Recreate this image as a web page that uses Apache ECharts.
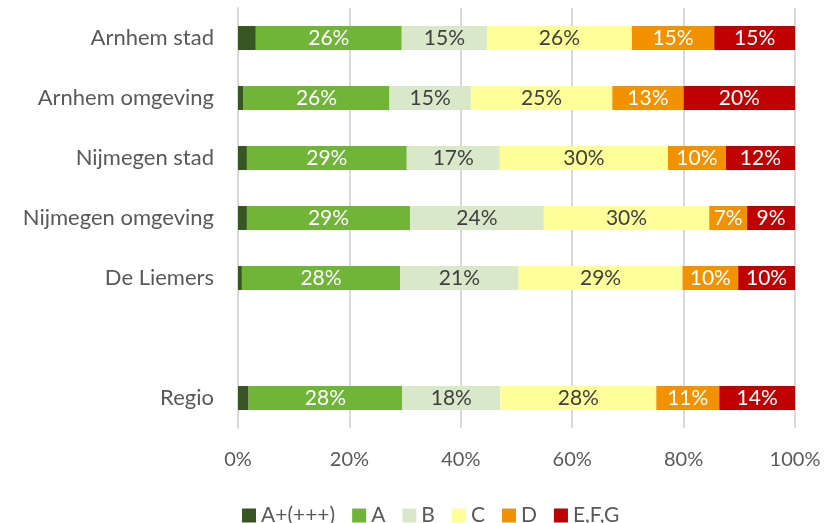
<!DOCTYPE html>
<html>
<head>
<meta charset="utf-8">
<title>Labels</title>
<script src="https://cdn.jsdelivr.net/npm/echarts@6/dist/echarts.min.js"></script>
<style>
  html, body { margin: 0; padding: 0; background: #fff; }
  #main { width: 834px; height: 523px; }
</style>
</head>
<body>
<div id="main"></div>
<script>
    // regio's (lege regel tussen De Liemers en Regio)
    var regions = ['Arnhem stad', 'Arnhem omgeving', 'Nijmegen stad', 'Nijmegen omgeving', 'De Liemers', '', 'Regio'];
    var labelNames = ['A+(+++)', 'A', 'B', 'C', 'D', 'E,F,G'];

    // aandelen in %
    var aPlus = [3.2, 1.0, 1.6, 1.6, 0.7, '-', 1.9];
    var aVal  = [26.2, 26.2, 28.7, 29.3, 28.4, '-', 27.6];
    var bVal  = [15.3, 14.6, 16.7, 24.0, 21.3, '-', 17.6];
    var cVal  = [26.0, 25.4, 30.2, 29.7, 29.4, '-', 28.0];
    var dVal  = [14.8, 12.8, 10.4, 6.8, 10.0, '-', 11.3];
    var efgVal = [14.5, 20.0, 12.4, 8.6, 10.2, '-', 13.6];

    var xTicks = [0, 20, 40, 60, 80, 100];

    var colors = ['#375623', '#70b538', '#d9e8c9', '#ffff99', '#f39200', '#c00000'];
    var labelColors = [null, '#ffffff', '#404040', '#404040', '#ffffff', '#ffffff'];
    var allData = [aPlus, aVal, bVal, cVal, dVal, efgVal];

    var series = [];
    for (var i = 0; i < labelNames.length; i++) {
        series.push({
            name: labelNames[i],
            type: 'bar',
            stack: 'totaal',
            barWidth: 24,
            data: allData[i],
            itemStyle: { color: colors[i] },
            label: {
                show: i > 0,
                position: 'inside',
                color: labelColors[i] || '#fff',
                fontFamily: 'Lato',
                fontSize: 21,
                formatter: function (p) { return Math.round(p.value) + '%'; }
            }
        });
    }

    var myChart = echarts.init(document.getElementById('main'));
    myChart.setOption({
        animation: false,
        textStyle: { fontFamily: 'Lato' },
        grid: {
            left: 238,
            right: 39,
            top: 8,
            bottom: 95
        },
        legend: {
            data: labelNames,
            top: 505,
            left: 242,
            padding: 0,
            itemWidth: 14,
            itemHeight: 14,
            itemGap: 17,
            icon: 'rect',
            textStyle: { color: '#595959', fontSize: 21, lineHeight: 14, fontFamily: 'Lato' }
        },
        xAxis: {
            type: 'value',
            min: xTicks[0],
            max: xTicks[xTicks.length - 1],
            interval: 20,
            axisLine: { show: false },
            axisTick: { show: false },
            splitLine: { lineStyle: { color: '#d9d9d9', width: 2 } },
            axisLabel: {
                color: '#595959',
                fontSize: 20,
                margin: 22,
                formatter: '{value}%'
            }
        },
        yAxis: {
            type: 'category',
            inverse: true,
            data: regions,
            axisLine: { show: true, lineStyle: { color: '#d9d9d9', width: 2 } },
            axisTick: { show: false },
            axisLabel: { color: '#595959', fontSize: 22, margin: 24 }
        },
        series: series
    });
</script>
</body>
</html>
